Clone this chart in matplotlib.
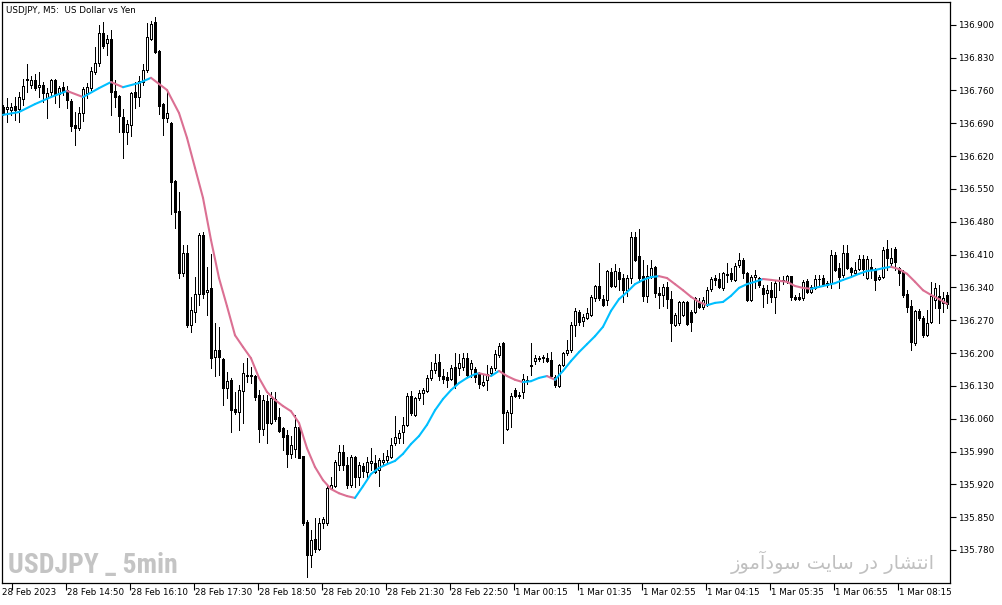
import matplotlib
matplotlib.use("Agg")
import matplotlib.pyplot as plt
from matplotlib import font_manager
from matplotlib.collections import LineCollection
import numpy as np

# USDJPY M5 candles, 28 Feb 13:30 -> 1 Mar 09:15
opens = [
    136.725, 136.721, 136.718, 136.727, 136.721, 136.742, 136.782, 136.772, 136.782, 136.767,
    136.772, 136.744, 136.757, 136.782, 136.752, 136.767, 136.761, 136.738, 136.686, 136.680,
    136.712, 136.755, 136.765, 136.799, 136.819, 136.883, 136.861, 136.870, 136.759, 136.748,
    136.703, 136.671, 136.686, 136.757, 136.746, 136.778, 136.804, 136.870, 136.906, 136.844,
    136.731, 136.701, 136.691, 136.567, 136.503, 136.371, 136.413, 136.260, 136.288, 136.326,
    136.452, 136.330, 136.339, 136.192, 136.207, 136.187, 136.125, 136.143, 136.081, 136.074,
    136.119, 136.151, 136.153, 136.151, 136.110, 136.038, 136.098, 136.051, 136.102, 136.064,
    136.040, 136.025, 135.985, 135.995, 136.042, 135.980, 135.840, 135.769, 135.803, 135.782,
    135.837, 135.837, 135.912, 135.916, 135.961, 135.989, 135.961, 135.918, 135.978, 135.936,
    135.959, 135.946, 135.965, 135.965, 135.950, 135.968, 135.972, 135.978, 136.008, 136.019,
    136.032, 136.047, 136.108, 136.068, 136.104, 136.115, 136.119, 136.147, 136.164, 136.181,
    136.151, 136.149, 136.145, 136.170, 136.168, 136.170, 136.189, 136.166, 136.166, 136.157,
    136.132, 136.143, 136.157, 136.168, 136.196, 136.221, 136.038, 136.072, 136.121, 136.110,
    136.117, 136.140, 136.172, 136.183, 136.187, 136.189, 136.189, 136.185, 136.149, 136.130,
    136.174, 136.200, 136.207, 136.260, 136.288, 136.268, 136.275, 136.281, 136.317, 136.343,
    136.315, 136.313, 136.373, 136.343, 136.373, 136.360, 136.334, 136.360, 136.447, 136.407,
    136.364, 136.322, 136.362, 136.384, 136.328, 136.324, 136.341, 136.315, 136.260, 136.264,
    136.281, 136.309, 136.288, 136.288, 136.309, 136.298, 136.305, 136.337, 136.360, 136.358,
    136.339, 136.369, 136.371, 136.356, 136.388, 136.398, 136.371, 136.313, 136.362, 136.360,
    136.339, 136.328, 136.334, 136.320, 136.354, 136.356, 136.354, 136.364, 136.320, 136.320,
    136.317, 136.354, 136.330, 136.339, 136.358, 136.360, 136.349, 136.349, 136.409, 136.381,
    136.366, 136.413, 136.381, 136.371, 136.379, 136.401, 136.360, 136.384, 136.377, 136.358,
    136.362, 136.422, 136.392, 136.422, 136.381, 136.373, 136.326, 136.300, 136.221, 136.290,
    136.275, 136.238, 136.266, 136.313, 136.322, 136.307, 136.324,
]
highs = [
    136.729, 136.744, 136.733, 136.746, 136.757, 136.784, 136.816, 136.791, 136.795, 136.799,
    136.778, 136.765, 136.784, 136.784, 136.770, 136.778, 136.770, 136.742, 136.714, 136.725,
    136.767, 136.776, 136.810, 136.853, 136.900, 136.906, 136.878, 136.889, 136.782, 136.750,
    136.721, 136.697, 136.757, 136.778, 136.791, 136.816, 136.904, 136.908, 136.917, 136.846,
    136.733, 136.757, 136.693, 136.569, 136.543, 136.430, 136.430, 136.320, 136.362, 136.456,
    136.458, 136.384, 136.411, 136.264, 136.256, 136.189, 136.160, 136.147, 136.117, 136.132,
    136.179, 136.189, 136.170, 136.153, 136.121, 136.110, 136.110, 136.117, 136.117, 136.083,
    136.042, 136.036, 136.023, 136.068, 136.044, 135.980, 135.844, 135.823, 135.848, 135.848,
    135.850, 135.918, 135.936, 135.972, 136.004, 136.004, 135.978, 135.983, 135.980, 135.968,
    135.965, 135.978, 135.997, 135.983, 135.976, 135.987, 135.993, 136.019, 136.066, 136.036,
    136.064, 136.115, 136.119, 136.106, 136.121, 136.125, 136.153, 136.181, 136.198, 136.198,
    136.166, 136.160, 136.174, 136.200, 136.198, 136.200, 136.200, 136.185, 136.170, 136.160,
    136.153, 136.174, 136.172, 136.207, 136.221, 136.224, 136.078, 136.115, 136.125, 136.117,
    136.155, 136.151, 136.221, 136.196, 136.194, 136.196, 136.200, 136.202, 136.153, 136.177,
    136.202, 136.228, 136.266, 136.296, 136.292, 136.283, 136.296, 136.324, 136.345, 136.392,
    136.324, 136.377, 136.381, 136.390, 136.381, 136.369, 136.366, 136.458, 136.458, 136.465,
    136.398, 136.388, 136.398, 136.386, 136.341, 136.347, 136.352, 136.332, 136.285, 136.311,
    136.311, 136.311, 136.292, 136.320, 136.317, 136.320, 136.341, 136.362, 136.366, 136.371,
    136.373, 136.392, 136.381, 136.392, 136.413, 136.403, 136.373, 136.366, 136.377, 136.362,
    136.345, 136.345, 136.352, 136.356, 136.362, 136.364, 136.366, 136.364, 136.324, 136.328,
    136.356, 136.358, 136.345, 136.366, 136.366, 136.366, 136.354, 136.420, 136.415, 136.392,
    136.430, 136.430, 136.384, 136.394, 136.409, 136.409, 136.407, 136.401, 136.381, 136.366,
    136.426, 136.441, 136.424, 136.426, 136.384, 136.377, 136.334, 136.313, 136.292, 136.294,
    136.279, 136.292, 136.352, 136.349, 136.345, 136.330, 136.330,
]
lows = [
    136.708, 136.693, 136.708, 136.697, 136.693, 136.729, 136.757, 136.765, 136.761, 136.746,
    136.735, 136.701, 136.750, 136.733, 136.725, 136.750, 136.723, 136.674, 136.644, 136.676,
    136.695, 136.744, 136.761, 136.795, 136.812, 136.851, 136.836, 136.708, 136.725, 136.671,
    136.616, 136.646, 136.663, 136.723, 136.727, 136.772, 136.799, 136.868, 136.840, 136.710,
    136.665, 136.693, 136.497, 136.467, 136.360, 136.364, 136.256, 136.245, 136.266, 136.302,
    136.317, 136.281, 136.168, 136.151, 136.153, 136.089, 136.104, 136.032, 136.070, 136.036,
    136.051, 136.138, 136.136, 136.100, 136.010, 136.025, 136.008, 136.049, 136.055, 136.032,
    135.993, 135.957, 135.976, 135.978, 135.976, 135.833, 135.722, 135.744, 135.776, 135.780,
    135.827, 135.833, 135.910, 135.914, 135.950, 135.950, 135.912, 135.914, 135.914, 135.918,
    135.936, 135.933, 135.950, 135.944, 135.916, 135.961, 135.968, 135.976, 136.004, 136.008,
    136.008, 136.044, 136.068, 136.066, 136.100, 136.091, 136.117, 136.143, 136.157, 136.143,
    136.136, 136.128, 136.143, 136.125, 136.153, 136.164, 136.151, 136.149, 136.138, 136.125,
    136.130, 136.121, 136.153, 136.164, 136.192, 136.008, 136.036, 136.042, 136.106, 136.104,
    136.104, 136.134, 136.153, 136.177, 136.183, 136.181, 136.181, 136.149, 136.128, 136.128,
    136.172, 136.196, 136.202, 136.236, 136.260, 136.258, 136.273, 136.279, 136.311, 136.313,
    136.300, 136.302, 136.341, 136.341, 136.334, 136.309, 136.322, 136.349, 136.396, 136.352,
    136.311, 136.309, 136.360, 136.320, 136.296, 136.300, 136.296, 136.226, 136.258, 136.260,
    136.279, 136.260, 136.247, 136.285, 136.296, 136.294, 136.300, 136.332, 136.345, 136.339,
    136.334, 136.352, 136.354, 136.354, 136.384, 136.360, 136.311, 136.311, 136.339, 136.341,
    136.298, 136.307, 136.309, 136.285, 136.334, 136.347, 136.349, 136.313, 136.313, 136.313,
    136.313, 136.328, 136.328, 136.337, 136.345, 136.343, 136.341, 136.339, 136.375, 136.339,
    136.362, 136.379, 136.366, 136.366, 136.377, 136.366, 136.358, 136.360, 136.334, 136.356,
    136.360, 136.377, 136.384, 136.377, 136.345, 136.320, 136.288, 136.207, 136.217, 136.270,
    136.234, 136.236, 136.264, 136.296, 136.264, 136.288, 136.296,
]
closes = [
    136.712, 136.725, 136.725, 136.718, 136.746, 136.770, 136.784, 136.782, 136.765, 136.772,
    136.755, 136.755, 136.782, 136.752, 136.765, 136.759, 136.740, 136.684, 136.680, 136.712,
    136.763, 136.767, 136.802, 136.819, 136.883, 136.855, 136.870, 136.757, 136.746, 136.706,
    136.671, 136.689, 136.755, 136.746, 136.780, 136.804, 136.874, 136.902, 136.842, 136.727,
    136.701, 136.712, 136.565, 136.501, 136.371, 136.413, 136.260, 136.292, 136.326, 136.452,
    136.326, 136.334, 136.189, 136.207, 136.192, 136.125, 136.140, 136.078, 136.074, 136.121,
    136.157, 136.153, 136.151, 136.106, 136.038, 136.100, 136.051, 136.104, 136.059, 136.034,
    136.021, 135.985, 136.004, 136.042, 135.976, 135.837, 135.769, 135.801, 135.782, 135.837,
    135.846, 135.912, 135.918, 135.968, 135.989, 135.961, 135.918, 135.978, 135.936, 135.961,
    135.948, 135.968, 135.970, 135.946, 135.972, 135.972, 135.980, 136.004, 136.021, 136.029,
    136.047, 136.108, 136.072, 136.104, 136.115, 136.121, 136.147, 136.164, 136.179, 136.151,
    136.145, 136.143, 136.168, 136.132, 136.179, 136.189, 136.153, 136.179, 136.149, 136.134,
    136.138, 136.155, 136.168, 136.198, 136.215, 136.072, 136.074, 136.108, 136.108, 136.109,
    136.145, 136.143, 136.174, 136.189, 136.189, 136.192, 136.183, 136.151, 136.132, 136.174,
    136.200, 136.207, 136.260, 136.290, 136.266, 136.277, 136.285, 136.320, 136.343, 136.317,
    136.302, 136.375, 136.343, 136.375, 136.358, 136.334, 136.360, 136.447, 136.398, 136.360,
    136.322, 136.364, 136.381, 136.328, 136.324, 136.341, 136.315, 136.264, 136.281, 136.309,
    136.309, 136.262, 136.266, 136.317, 136.298, 136.313, 136.334, 136.358, 136.356, 136.341,
    136.371, 136.366, 136.358, 136.386, 136.398, 136.371, 136.313, 136.362, 136.366, 136.345,
    136.326, 136.334, 136.320, 136.349, 136.353, 136.354, 136.364, 136.320, 136.315, 136.315,
    136.352, 136.330, 136.341, 136.358, 136.357, 136.347, 136.345, 136.409, 136.377, 136.362,
    136.413, 136.381, 136.373, 136.377, 136.401, 136.379, 136.401, 136.377, 136.356, 136.362,
    136.420, 136.403, 136.403, 136.394, 136.371, 136.324, 136.298, 136.224, 136.290, 136.275,
    136.238, 136.264, 136.322, 136.339, 136.296, 136.317, 136.305,
]

# moving average line (bar index, price)
ma_bars = [0, 4, 8, 12, 16, 20, 24, 27, 30, 34, 37, 41, 44, 46, 48, 50, 52, 54, 56, 58,
           60, 62, 64, 66, 68, 70, 72, 74, 76, 78, 80, 82, 84, 86, 88, 90, 92, 94, 96, 98,
           100, 102, 104, 106, 108, 110, 112, 114, 116, 118, 119, 122, 124, 126, 128, 130,
           132, 134, 136, 138, 140, 142, 144, 146, 148, 150, 152, 154, 156, 158, 160, 162,
           164, 166, 168, 170, 172, 174, 176, 178, 180, 182, 184, 186, 188, 190, 192, 194,
           196, 198, 200, 202, 204, 206, 208, 210, 212, 214, 216, 218, 220, 222, 224, 226,
           228, 230, 232, 234, 236]
ma_values = [136.708, 136.714, 136.731, 136.746, 136.759, 136.746, 136.765, 136.778, 136.767, 136.776,
             136.787, 136.761, 136.712, 136.659, 136.595, 136.531, 136.441, 136.360, 136.300, 136.238,
             136.213, 136.189, 136.147, 136.117, 136.100, 136.087, 136.076, 136.051, 135.997, 135.957,
             135.929, 135.910, 135.901, 135.895, 135.891, 135.916, 135.942, 135.955, 135.963, 135.970,
             135.985, 136.006, 136.023, 136.047, 136.078, 136.102, 136.121, 136.136, 136.147, 136.155,
             136.157, 136.151, 136.162, 136.151, 136.143, 136.138, 136.140, 136.147, 136.151, 136.143,
             136.162, 136.183, 136.202, 136.219, 136.236, 136.256, 136.290, 136.315, 136.330, 136.347,
             136.356, 136.362, 136.364, 136.360, 136.347, 136.334, 136.320, 136.309, 136.302, 136.307,
             136.309, 136.322, 136.339, 136.347, 136.352, 136.358, 136.356, 136.354, 136.352, 136.343,
             136.339, 136.337, 136.341, 136.345, 136.349, 136.356, 136.362, 136.369, 136.375, 136.377,
             136.381, 136.384, 136.379, 136.369, 136.352, 136.334, 136.324, 136.315, 136.305]

label_bars = [0, 16, 32, 48, 64, 80, 96, 112, 128, 144, 160, 176, 192, 208, 224]
time_labels = ["28 Feb 2023", "28 Feb 14:50", "28 Feb 16:10", "28 Feb 17:30", "28 Feb 18:50",
               "28 Feb 20:10", "28 Feb 21:30", "28 Feb 22:50", "1 Mar 00:15", "1 Mar 01:35",
               "1 Mar 02:55", "1 Mar 04:15", "1 Mar 05:35", "1 Mar 06:55", "1 Mar 08:15"]
price_ticks = [135.780, 135.850, 135.920, 135.990, 136.060, 136.130, 136.200, 136.270, 136.340,
               136.410, 136.480, 136.550, 136.620, 136.690, 136.760, 136.830, 136.900]

o = np.array(opens)
h = np.array(highs)
l = np.array(lows)
c = np.array(closes)
x = np.arange(len(c))

fig = plt.figure(figsize=(10.03, 6.05), dpi=100)
ax = fig.add_axes([2 / 1003, 22 / 605, 948 / 1003, 581 / 605])

px = 0.72  # one pixel in points

# wicks
ax.vlines(x, l, h, color="black", linewidth=px, zorder=2, antialiased=False)

# bodies
bull = c >= o
bottoms = np.minimum(o, c)
heights = np.abs(c - o)
ax.bar(x[bull], heights[bull], bottom=bottoms[bull], width=0.5, facecolor="white",
       edgecolor="black", linewidth=px, zorder=3, antialiased=False)
ax.bar(x[~bull], heights[~bull], bottom=bottoms[~bull], width=0.5, facecolor="black",
       edgecolor="black", linewidth=px, zorder=3, antialiased=False)

# moving average, blue when rising, pink when falling
pts = np.column_stack([ma_bars, ma_values])
segs = np.stack([pts[:-1], pts[1:]], axis=1)
mv = np.array(ma_values)
seg_colors = ["#00bfff" if mv[i + 1] >= mv[i] else "#db7093" for i in range(len(mv) - 1)]
ax.add_collection(LineCollection(segs, colors=seg_colors, linewidths=1.5, zorder=4,
                                 capstyle="round"))

ax.set_xlim(-0.25, 236.75)
ax.set_ylim(135.7096, 136.9487)

for sp in ax.spines.values():
    sp.set_linewidth(0.9)
    sp.set_color("black")

ax.yaxis.tick_right()
ax.set_yticks(price_ticks)
ax.set_yticklabels(["%.3f" % p for p in price_ticks])
ax.tick_params(axis="y", direction="out", length=4, width=0.8, pad=2, labelsize=6.3)

tick_pos = [b - 0.25 for b in label_bars]
tick_pos[0] = 2.2
ax.set_xticks(tick_pos)
ax.set_xticklabels([])
ax.tick_params(axis="x", direction="out", length=5, width=0.8)
for i, lab in enumerate(time_labels):
    tx = -0.2 if i == 0 else tick_pos[i] + 0.25
    ax.text(tx, -0.0155, lab, transform=ax.get_xaxis_transform(), ha="left", va="center",
            fontsize=6.3, clip_on=False)

ax.text(0.004, 0.986, "USDJPY, M5:  US Dollar vs Yen", transform=ax.transAxes,
        ha="left", va="center", fontsize=6.3)

# narrow bold face for the watermark if one is installed
installed = {f.name for f in font_manager.fontManager.ttflist}
narrow = [n for n in ["Liberation Sans Narrow", "DejaVu Sans Condensed", "Roboto Condensed",
                      "Open Sans Condensed", "Noto Sans Condensed"] if n in installed]
if narrow:
    ax.text(0.0065, 0.030, "USDJPY _ 5min", transform=ax.transAxes, ha="left", va="center",
            fontsize=20, fontweight="bold", color="#c4c4c4", family=[narrow[0]])
else:
    ax.text(0.0065, 0.030, "USDJPY _ 5min", transform=ax.transAxes, ha="left", va="center",
            fontsize=15.5, fontweight="bold", color="#c4c4c4", family=["DejaVu Sans"],
            fontstretch="condensed")

# Persian watermark (presentation forms in visual order)
ax.text(0.984, 0.035, "ﺯﻮﻣﺁﺩﻮﺳ ﺖﻳﺎﺳ ﺭﺩ ﺭﺎﺸﺘﻧﺍ", transform=ax.transAxes, ha="right",
        va="center", fontsize=14, color="#c0c0c0", family=["DejaVu Sans"])

fig.savefig("out.png", dpi=100)
